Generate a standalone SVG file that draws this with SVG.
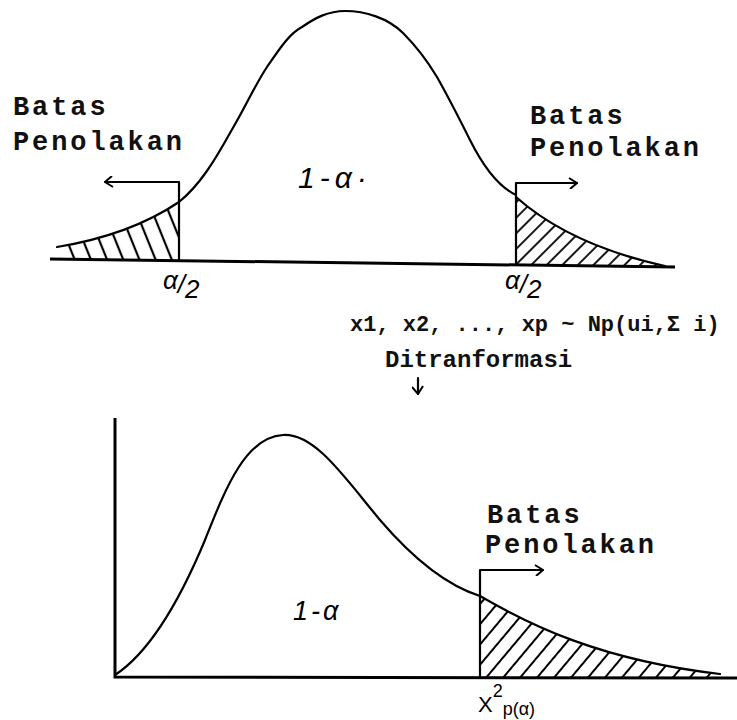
<svg xmlns="http://www.w3.org/2000/svg" width="737" height="720" viewBox="0 0 737 720">
<style>
.ln{fill:none;stroke:#000;stroke-width:2.2;stroke-linecap:round;stroke-linejoin:round}
.ax{fill:none;stroke:#000;stroke-width:3}
.tw{font-family:"Liberation Mono","DejaVu Sans Mono",monospace;font-size:27px;font-weight:bold;letter-spacing:2.9px;fill:#111}
.tm{font-family:"Liberation Mono","DejaVu Sans Mono",monospace;font-weight:bold;fill:#111}
.hw{font-family:"Liberation Sans","DejaVu Sans",sans-serif;font-style:italic;fill:#000}
</style>
<defs>
<pattern id="hatchL" width="15" height="20" patternUnits="userSpaceOnUse" patternTransform="rotate(-22)">
<line x1="2" y1="0" x2="2" y2="20" stroke="#000" stroke-width="2.2"/>
</pattern>
<pattern id="hatchR" width="11" height="20" patternUnits="userSpaceOnUse" patternTransform="rotate(45)">
<line x1="2" y1="0" x2="2" y2="20" stroke="#000" stroke-width="1.8"/>
</pattern>
<pattern id="hatchB" width="13" height="20" patternUnits="userSpaceOnUse" patternTransform="rotate(40)">
<line x1="2" y1="0" x2="2" y2="20" stroke="#000" stroke-width="2"/>
</pattern>
<marker id="open" viewBox="0 0 12 12" refX="11" refY="6" markerWidth="12" markerHeight="12" markerUnits="userSpaceOnUse" orient="auto">
<polyline points="3,1 11,6 4,12" fill="none" stroke="#000" stroke-width="2"/>
</marker>
</defs>

<g id="top-graph">
<path d="M57,247 Q130,235 179,202 L179,260 L60,259 Z" fill="url(#hatchL)"/>
<path d="M516,197 Q570,245 665,266 L516,265 Z" fill="url(#hatchR)"/>
<path class="ax" d="M50,259 L675,267"/>
<path class="ln" d="M57,247 Q130,235 179,202"/>
<path class="ln" d="M179,202 C200,185 215,160 230,133 C245,108 255,85 267,67 C280,48 290,33 302,27 C315,18 328,11 345,11 C365,11 388,18 403,33 C418,48 428,62 437,77 C450,100 460,120 470,140 C480,160 495,185 516,195"/>
<path class="ln" d="M516,197 Q570,245 665,266"/>
</g>

<g id="connectors">
<path class="ln" d="M179,260 L179,182 L105,182" marker-end="url(#open)"/>
<path class="ln" d="M516,264 L516,183 L577,183" marker-end="url(#open)"/>
<path class="ln" d="M480,677 L480,570 L543,570" marker-end="url(#open)"/>
<path class="ln" d="M418,378 L418,394" marker-end="url(#open)"/>
</g>

<g id="label-left">
<text class="tw" x="13" y="115">Batas</text>
<text class="tw" x="13" y="150">Penolakan</text>
</g>
<g id="label-right">
<text class="tw" x="530" y="124">Batas</text>
<text class="tw" x="530" y="156">Penolakan</text>
</g>
<g id="label-center">
<text class="hw" x="298" y="188" font-size="30" letter-spacing="5">1-α·</text>
</g>
<g id="alpha-left">
<text class="hw" x="163" y="298" font-size="26"><tspan dy="-9">α</tspan><tspan dy="4">/</tspan><tspan dy="5">2</tspan></text>
</g>
<g id="alpha-right">
<text class="hw" x="505" y="298" font-size="26"><tspan dy="-9">α</tspan><tspan dy="4">/</tspan><tspan dy="5">2</tspan></text>
</g>

<g id="distribution">
<text class="tm" x="350" y="331" style="font-size:22px;letter-spacing:0">x1, x2, ..., xp ~ Np(ui,Σ i)</text>
</g>
<g id="transform-label">
<text class="tm" x="385" y="367" style="font-size:24px;letter-spacing:0">Ditranformasi</text>
</g>

<g id="bottom-graph">
<path d="M480,596 C530,625 600,660 720,674 L720,677 L480,677 Z" fill="url(#hatchB)"/>
<path class="ax" d="M115,418 L115,677 L737,678"/>
<path class="ln" d="M115,675 C150,652 180,600 205,540 C225,490 245,437 283,435 C315,433 345,478 380,520 C410,555 445,585 480,596"/>
<path class="ln" d="M480,596 C530,625 600,660 720,674"/>
</g>
<g id="label-bottom">
<text class="tw" x="487" y="523">Batas</text>
<text class="tw" x="485" y="553">Penolakan</text>
</g>
<g id="label-bottom-center">
<text class="hw" x="293" y="620" font-size="27" letter-spacing="3">1-α</text>
</g>
<g id="chi-label">
<text x="478" y="712" font-family="Liberation Sans, DejaVu Sans, sans-serif" font-size="22">X<tspan dy="-15" font-size="18">2</tspan><tspan dy="18" font-size="18">p(α)</tspan></text>
</g>
</svg>
